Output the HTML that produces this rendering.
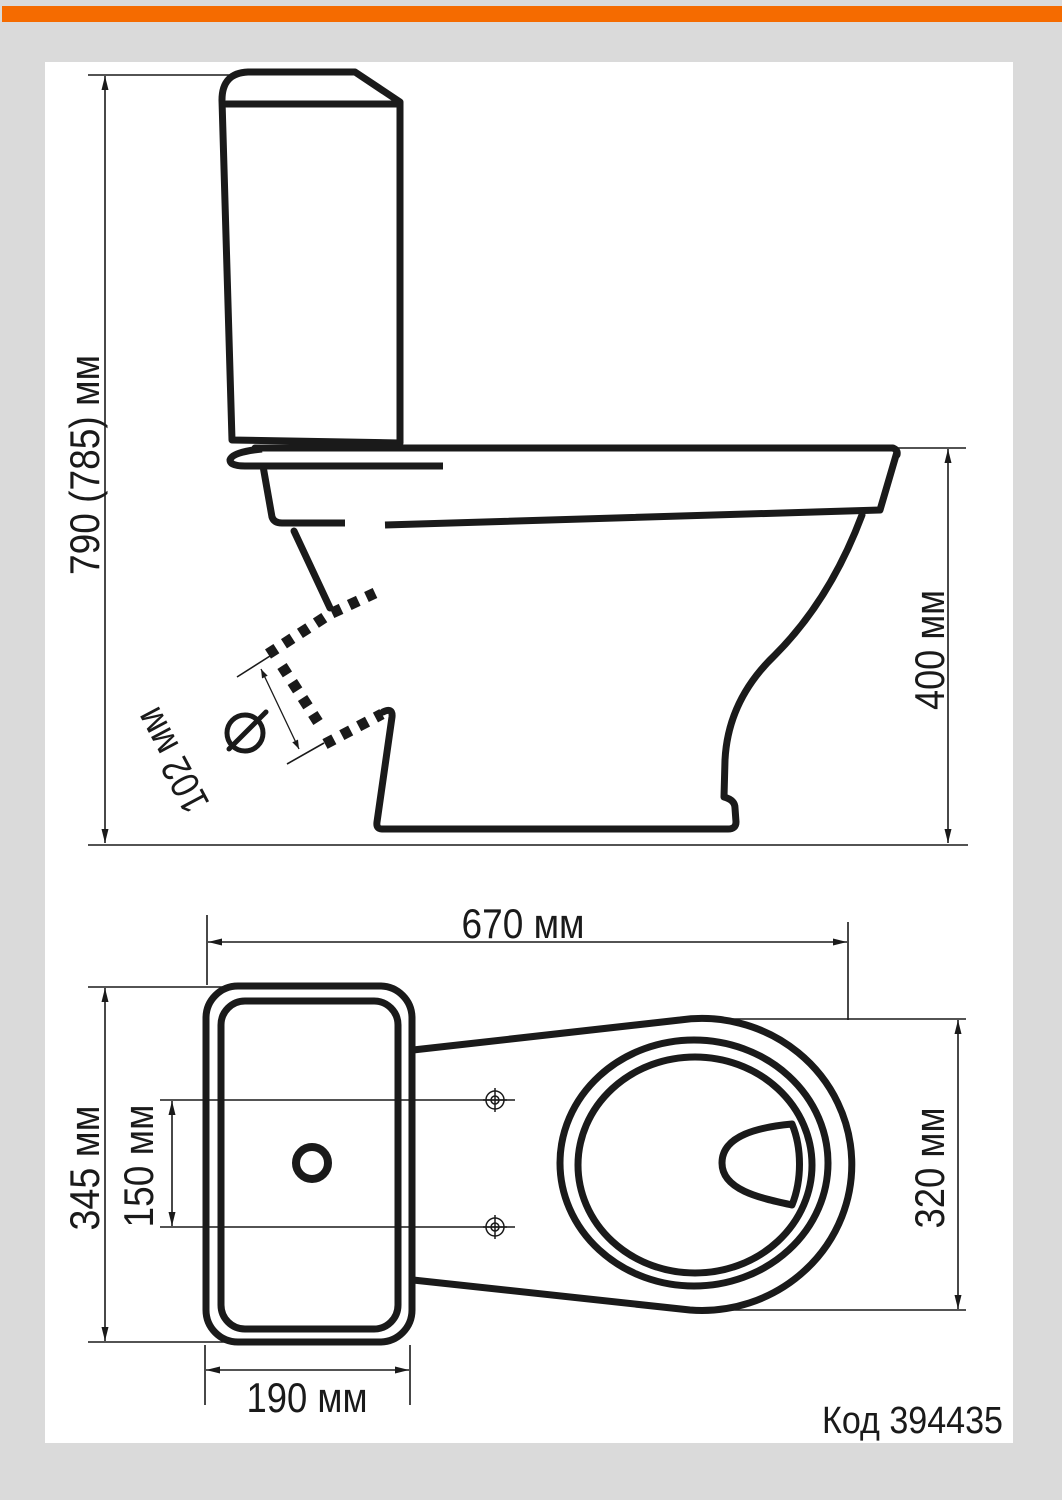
<!DOCTYPE html>
<html><head><meta charset="utf-8"><style>
html,body{margin:0;padding:0;background:#dadada;}
svg{display:block}
text{font-family:"Liberation Sans",sans-serif;fill:#1a1a1a;}
</style></head><body>
<svg width="1062" height="1500" viewBox="0 0 1062 1500" xmlns="http://www.w3.org/2000/svg">
<defs>
<marker id="a" viewBox="0 0 10 10" refX="10" refY="5" markerWidth="9" markerHeight="9" markerUnits="userSpaceOnUse" orient="auto-start-reverse"><path d="M0,1.5 L10,5 L0,8.5Z" fill="#1a1a1a"/></marker>
<marker id="b" viewBox="0 0 10 10" refX="10" refY="5" markerWidth="14" markerHeight="14" markerUnits="userSpaceOnUse" orient="auto-start-reverse"><path d="M0,2.5 L10,5 L0,7.5Z" fill="#1a1a1a"/></marker>
</defs>
<rect x="0" y="0" width="1062" height="1500" fill="#dadada"/>
<rect x="2" y="6" width="1060" height="16" fill="#f56b00"/>
<rect x="45" y="62" width="968" height="1381" fill="#fff"/>

<g fill="none" stroke="#1a1a1a" stroke-width="1.6">
<line x1="88" y1="75" x2="232" y2="75"/>
<line x1="105" y1="76" x2="105" y2="843" marker-start="url(#b)" marker-end="url(#b)"/>
<line x1="88" y1="845" x2="968" y2="845"/>
<line x1="895" y1="448" x2="966" y2="448"/>
<line x1="948" y1="449" x2="948" y2="843" marker-start="url(#b)" marker-end="url(#b)"/>
<line x1="237" y1="677" x2="270" y2="656"/>
<line x1="287" y1="764" x2="324" y2="743"/>
<line x1="261" y1="669" x2="299" y2="749" stroke-width="1.3" marker-start="url(#a)" marker-end="url(#a)"/>
<line x1="207" y1="915" x2="207" y2="985"/>
<line x1="848" y1="922" x2="848" y2="1020"/>
<line x1="208" y1="942" x2="847" y2="942" marker-start="url(#b)" marker-end="url(#b)"/>
<line x1="88" y1="987" x2="232" y2="987"/>
<line x1="88" y1="1342" x2="232" y2="1342"/>
<line x1="105" y1="988" x2="105" y2="1341" marker-start="url(#b)" marker-end="url(#b)"/>
<line x1="160" y1="1100" x2="515" y2="1100"/>
<line x1="160" y1="1227" x2="515" y2="1227"/>
<line x1="172" y1="1101" x2="172" y2="1226" marker-start="url(#b)" marker-end="url(#b)"/>
<line x1="700" y1="1019" x2="966" y2="1019"/>
<line x1="700" y1="1310" x2="966" y2="1310"/>
<line x1="958" y1="1020" x2="958" y2="1309" marker-start="url(#b)" marker-end="url(#b)"/>
<line x1="205" y1="1345" x2="205" y2="1405"/>
<line x1="410" y1="1345" x2="410" y2="1405"/>
<line x1="206" y1="1370" x2="409" y2="1370" marker-start="url(#b)" marker-end="url(#b)"/>
</g>

<g fill="none" stroke="#1a1a1a" stroke-width="7" stroke-linejoin="round" stroke-linecap="round">
<path d="M232,440 L222,100 Q222,73 248,72 L355,72 L400,102 L400,443 Z"/>
<line x1="226" y1="104" x2="398" y2="104"/>
<path d="M255,448 L893,448 Q898,450 897,455"/>
<path d="M262,449 Q232,452 230,460 Q230,466 245,466 L443,466" stroke-linecap="butt"/>
<path d="M263,466 L272,517 Q274,523 282,523 L345,523" stroke-linecap="butt"/>
<path d="M385,525 L880,510 L897,452" stroke-linecap="butt"/>
<path d="M294,531 L330,608"/>
<path d="M862,515 Q830,600 775,655 Q728,700 725,760 L724,797 Q735,800 735,808 L736,822 Q736,829 728,829 L382,829 Q376,829 377,822 L392,717 Q393,707 383,712" />
<circle cx="245" cy="733" r="18" stroke-width="5"/>
<line x1="229" y1="749" x2="266" y2="712" stroke-width="5"/>
</g>
<g fill="none" stroke="#1a1a1a" stroke-width="11" stroke-dasharray="10 9">
<path d="M268,654 L330,614 L375,593"/>
<path d="M282,666 L318,722"/>
<path d="M325,744 L382,714"/>
</g>

<g fill="none" stroke="#1a1a1a" stroke-width="7" stroke-linejoin="round">
<rect x="206" y="986" width="206" height="356" rx="32"/>
<rect x="221" y="1001" width="177" height="328" rx="24"/>
<circle cx="312" cy="1163" r="16" stroke-width="8"/>
<path d="M413,1050 L680,1020 A150,146 0 1 1 690,1310 L413,1280"/>
<ellipse cx="694" cy="1163" rx="134" ry="123"/>
<ellipse cx="695" cy="1165" rx="117" ry="108"/>
<path d="M792,1124 C760,1127 722,1135 722,1163 C722,1190 760,1198 792,1205 C802,1180 802,1148 792,1124Z"/>
</g>
<g fill="none" stroke="#1a1a1a" stroke-width="1.5">
<circle cx="495" cy="1100" r="9"/><circle cx="495" cy="1100" r="4"/>
<line x1="483" y1="1100" x2="507" y2="1100"/><line x1="495" y1="1088" x2="495" y2="1112"/>
<circle cx="495" cy="1227" r="9"/><circle cx="495" cy="1227" r="4"/>
<line x1="483" y1="1227" x2="507" y2="1227"/><line x1="495" y1="1215" x2="495" y2="1239"/>
</g>

<g font-size="42">
<text transform="translate(99,465) rotate(-90)" text-anchor="middle" textLength="220" lengthAdjust="spacingAndGlyphs">790 (785) мм</text>
<text transform="translate(944,650) rotate(-90)" text-anchor="middle" textLength="120" lengthAdjust="spacingAndGlyphs">400 мм</text>
<text transform="translate(184,754) rotate(-118)" text-anchor="middle" font-size="40" textLength="112" lengthAdjust="spacingAndGlyphs">102 мм</text>
<text x="523" y="938" text-anchor="middle" textLength="123" lengthAdjust="spacingAndGlyphs">670 мм</text>
<text transform="translate(99,1168) rotate(-90)" text-anchor="middle" textLength="125" lengthAdjust="spacingAndGlyphs">345 мм</text>
<text transform="translate(153,1166) rotate(-90)" text-anchor="middle" textLength="123" lengthAdjust="spacingAndGlyphs">150 мм</text>
<text transform="translate(944,1168) rotate(-90)" text-anchor="middle" textLength="121" lengthAdjust="spacingAndGlyphs">320 мм</text>
<text x="307" y="1412" text-anchor="middle" textLength="121" lengthAdjust="spacingAndGlyphs">190 мм</text>
<text x="1003" y="1433" text-anchor="end" font-size="38" textLength="181" lengthAdjust="spacingAndGlyphs">Код 394435</text>
</g>
</svg>
</body></html>
